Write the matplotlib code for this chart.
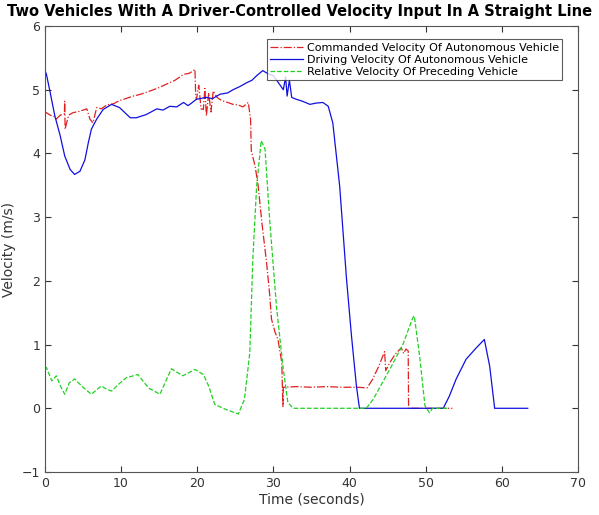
import matplotlib
matplotlib.use("Agg")
import matplotlib.pyplot as plt
import numpy as np

# commanded velocity (red, dash-dot)
cmd_t = [0.0, 0.2, 0.7, 1.1, 1.5, 2.0, 2.55, 2.6, 2.65, 3.1, 3.7, 4.5, 5.0, 5.5, 5.9, 6.3, 6.8, 7.4,
         8.1, 9.0, 9.8, 10.6, 11.6, 12.6, 13.8, 14.9, 16.0, 17.1, 18.2, 19.0, 19.5, 19.7, 19.8, 19.9,
         20.2, 20.5, 20.8, 21.0, 21.2, 21.5, 21.8, 22.1, 22.6, 23.2, 24.0, 24.7, 25.4, 26.0, 26.7,
         27.0, 27.1, 27.6, 28.0, 28.5, 29.1, 29.5, 29.75, 30.2, 30.6, 31.1, 31.25, 31.3, 33.0, 35.0,
         37.0, 39.0, 41.0, 42.3, 43.0, 43.8, 44.6, 44.75, 45.3, 46.0, 46.8, 47.1, 47.4, 47.7, 47.75,
         50.0, 53.5]
cmd_v = [4.62, 4.64, 4.6, 4.59, 4.54, 4.6, 4.62, 4.82, 4.38, 4.6, 4.64, 4.66, 4.68, 4.7, 4.54, 4.48, 4.72, 4.7,
         4.76, 4.78, 4.83, 4.86, 4.9, 4.93, 4.98, 5.03, 5.09, 5.15, 5.24, 5.26, 5.3, 5.32, 4.9, 4.85,
         5.07, 4.7, 4.69, 5.02, 4.59, 4.95, 4.65, 4.98, 4.88, 4.83, 4.8, 4.77, 4.76, 4.73, 4.8,
         4.54, 4.04, 3.8, 3.49, 2.9, 2.29, 1.8, 1.4, 1.2, 1.08, 0.72, 0.03, 0.33, 0.34, 0.33,
         0.34, 0.33, 0.33, 0.32, 0.45, 0.65, 0.89, 0.59, 0.72, 0.85, 0.95, 0.86, 0.93, 0.9, 0.0,
         0.0, 0.0]

# driving velocity (blue, solid)
drv_t = [0.0, 0.02, 0.2, 0.65, 1.3, 2.0, 2.6, 3.3, 3.9, 4.6, 5.25, 5.7, 6.1, 6.8, 7.65, 8.75, 9.8,
         10.5, 11.2, 12.0, 13.3, 14.7, 15.5, 16.4, 17.3, 18.2, 18.8, 19.9, 21.2, 22.0, 23.0, 24.0,
         24.7, 25.6, 26.5, 27.2, 27.8, 28.6, 29.3, 30.0, 30.6, 31.3, 31.6, 31.8, 32.1, 32.4, 33.0,
         33.8, 34.8, 35.6, 36.5, 37.2, 37.8, 38.7, 39.6, 40.25, 40.9, 41.3, 45.0, 50.0, 52.3, 53.1,
         54.0, 55.3, 56.65, 57.7, 58.4, 59.05, 61.0, 63.4]
drv_v = [6.0, 5.3, 5.24, 4.98, 4.59, 4.28, 3.96, 3.75, 3.67, 3.72, 3.9, 4.17, 4.38, 4.54, 4.69, 4.77, 4.72,
         4.64, 4.56, 4.56, 4.61, 4.7, 4.68, 4.74, 4.73, 4.8, 4.75, 4.85, 4.88, 4.86, 4.93, 4.95,
         5.0, 5.05, 5.11, 5.15, 5.22, 5.3, 5.25, 5.22, 5.12, 5.0, 5.2, 4.9, 5.15, 4.88, 4.85,
         4.82, 4.77, 4.79, 4.8, 4.74, 4.48, 3.49, 2.03, 1.14, 0.35, 0.0, 0.0, 0.0, 0.0, 0.19,
         0.46, 0.77, 0.95, 1.08, 0.66, 0.0, 0.0, 0.0]

# relative velocity of preceding vehicle (green, dashed)
rel_t = [0.0, 0.2, 0.9, 1.5, 2.0, 2.6, 3.2, 3.9, 5.0, 6.1, 7.4, 8.1, 8.75, 9.7, 10.7, 12.2, 13.6,
         15.1, 16.6, 18.1, 19.7, 20.8, 21.5, 22.3, 23.8, 25.4, 26.2, 26.9, 27.3, 27.8, 28.4, 28.9,
         29.5, 30.4, 31.3, 31.9, 32.6, 36.0, 40.0, 42.2, 43.1, 44.3, 45.5, 47.0, 48.3, 48.5, 49.2,
         49.9, 50.5, 50.9, 53.1]
rel_v = [0.62, 0.64, 0.43, 0.51, 0.36, 0.22, 0.4, 0.46, 0.33, 0.22, 0.35, 0.3, 0.27, 0.38, 0.48, 0.53, 0.32,
         0.22, 0.62, 0.51, 0.61, 0.53, 0.35, 0.06, -0.02, -0.09, 0.14, 0.87, 2.34, 3.49, 4.2, 4.07,
         2.97, 1.6, 0.61, 0.09, 0.0, 0.0, 0.0, 0.0, 0.14, 0.4, 0.66, 1.0, 1.42, 1.45, 0.82,
         0.04, -0.07, 0.0, 0.0]

fig = plt.figure(figsize=(5.99, 5.15), dpi=100)
ax = fig.add_axes([0.075, 0.0835, 0.89, 0.866])

ax.plot(cmd_t, cmd_v, color='#e02020', linestyle='-.', linewidth=0.9,
        label='Commanded Velocity Of Autonomous Vehicle')
ax.plot(drv_t, drv_v, color='#1010e0', linestyle='-', linewidth=0.9,
        label='Driving Velocity Of Autonomous Vehicle')
ax.plot(rel_t, rel_v, color='#22d022', linestyle='--', linewidth=0.9,
        label='Relative Velocity Of Preceding Vehicle')

ax.set_xlim(0, 70)
ax.set_ylim(-1, 6)
ax.set_xticks(np.arange(0, 71, 10))
ax.set_yticks(np.arange(-1, 7, 1))
ax.tick_params(direction='in', top=True, right=True, labelsize=9, colors='#333333', length=4)
for s in ax.spines.values():
    s.set_color('#555555')
    s.set_linewidth(0.8)

ax.set_xlabel('Time (seconds)', fontsize=10, color='#333333', labelpad=2)
ax.set_ylabel('Velocity (m/s)', fontsize=10, color='#333333', labelpad=4)
fig.suptitle('Two Vehicles With A Driver-Controlled Velocity Input In A Straight Line',
             x=0.5, y=0.992, va='top', fontsize=10.5, fontweight='bold')

leg = ax.legend(loc='upper right', bbox_to_anchor=(0.975, 0.975), fontsize=8.0, frameon=True,
                fancybox=False, borderpad=0.3, labelspacing=0.2, handlelength=2.9,
                handletextpad=0.4, borderaxespad=0.2)
leg.get_frame().set_edgecolor('#333333')
leg.get_frame().set_linewidth(0.8)

fig.savefig('out.png', dpi=100)
